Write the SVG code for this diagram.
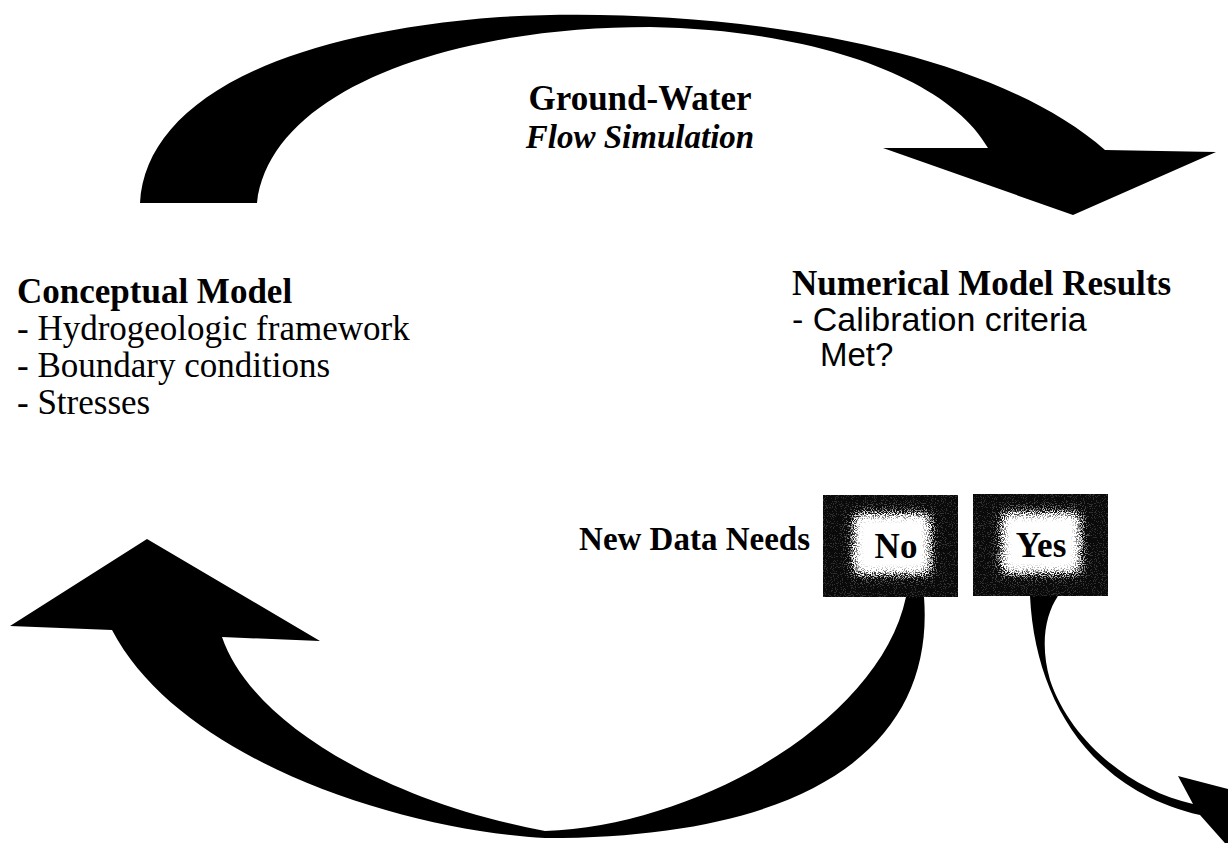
<svg xmlns="http://www.w3.org/2000/svg" width="1228" height="843" viewBox="0 0 1228 843">
  <style>
    .serif { font-family: "Liberation Serif", "Times New Roman", serif; fill: #000; }
    .sans { font-family: "Liberation Sans", Arial, sans-serif; fill: #000; }
    .b { font-weight: bold; }
    .t35 { font-size: 35px; }
    .arrow { fill: #000; stroke: none; }
    .box { fill: #0a0a0a; }
  </style>
  <defs>
    <!-- grainy white glow inside the decision boxes -->
    <filter id="halo" x="-40%" y="-40%" width="180%" height="180%">
      <feGaussianBlur in="SourceGraphic" stdDeviation="6" result="soft"/>
      <feTurbulence type="fractalNoise" baseFrequency="0.9" numOctaves="2" seed="7" result="noise"/>
      <feColorMatrix in="noise" type="matrix" values="0 0 0 0 1  0 0 0 0 1  0 0 0 0 1  0 0 0 4 -1.5" result="grain"/>
      <feComposite in="soft" in2="grain" operator="arithmetic" k1="0" k2="2" k3="1.1" k4="-0.95"/>
    </filter>
  </defs>

  <rect width="1228" height="843" fill="#fff"/>

  <g id="connectors">
    <!-- upper arc: conceptual model to numerical results -->
    <path id="arc-simulation" class="arrow" d="M140,203 C145,110 260,35 500,17 C700,5 980,40 1105,150 L1216,152 L1073,215 L883,148 L988,148 C950,80 820,30 650,27 C450,27 270,90 257,203 Z"/>
    <!-- lower arc: "No" back to the conceptual model -->
    <path id="arc-no" class="arrow" d="M10,626 L147,539 L320,641 L222,637 C250,720 380,800 545,831 C700,825 880,720 906,597 L924,597 C935,740 820,838 545,838 C400,830 180,760 112,630 Z"/>
    <!-- thin arrow leaving the "Yes" box -->
    <path id="arc-yes" class="arrow" d="M1030,596 C1035,700 1090,790 1200,815 L1240,860 L1240,792 L1178,776 L1193,804 C1130,790 1070,740 1050,680 C1040,645 1045,615 1058,596 Z"/>
  </g>

  <g id="simulation-label">
    <text class="serif b t35" x="640" y="110" text-anchor="middle">Ground-Water</text>
    <text class="serif b" font-size="33" x="640" y="148" text-anchor="middle" font-style="italic">Flow Simulation</text>
  </g>

  <g id="conceptual-model">
    <text class="serif b t35" x="17" y="303">Conceptual Model</text>
    <text class="serif t35" x="17" y="340">- Hydrogeologic framework</text>
    <text class="serif t35" x="17" y="377">- Boundary conditions</text>
    <text class="serif t35" x="17" y="414">- Stresses</text>
  </g>

  <g id="numerical-results">
    <text class="serif b t35" x="792" y="295">Numerical Model Results</text>
    <text class="sans" font-size="34" x="792" y="331">- Calibration criteria</text>
    <text class="sans" font-size="33" x="820" y="366">Met?</text>
  </g>

  <g id="new-data-needs">
    <text class="serif b" font-size="33" x="810" y="550" text-anchor="end">New Data Needs</text>
  </g>

  <g id="box-no">
    <rect class="box" x="823" y="495" width="135" height="102"/>
    <rect x="854" y="514" width="76" height="60" fill="#fff" filter="url(#halo)"/>
    <text class="serif b t35" x="896" y="558" text-anchor="middle">No</text>
  </g>

  <g id="box-yes">
    <rect class="box" x="973" y="494" width="135" height="102"/>
    <rect x="1002" y="513" width="78" height="60" fill="#fff" filter="url(#halo)"/>
    <text class="serif b t35" x="1041" y="557" text-anchor="middle">Yes</text>
  </g>
</svg>
